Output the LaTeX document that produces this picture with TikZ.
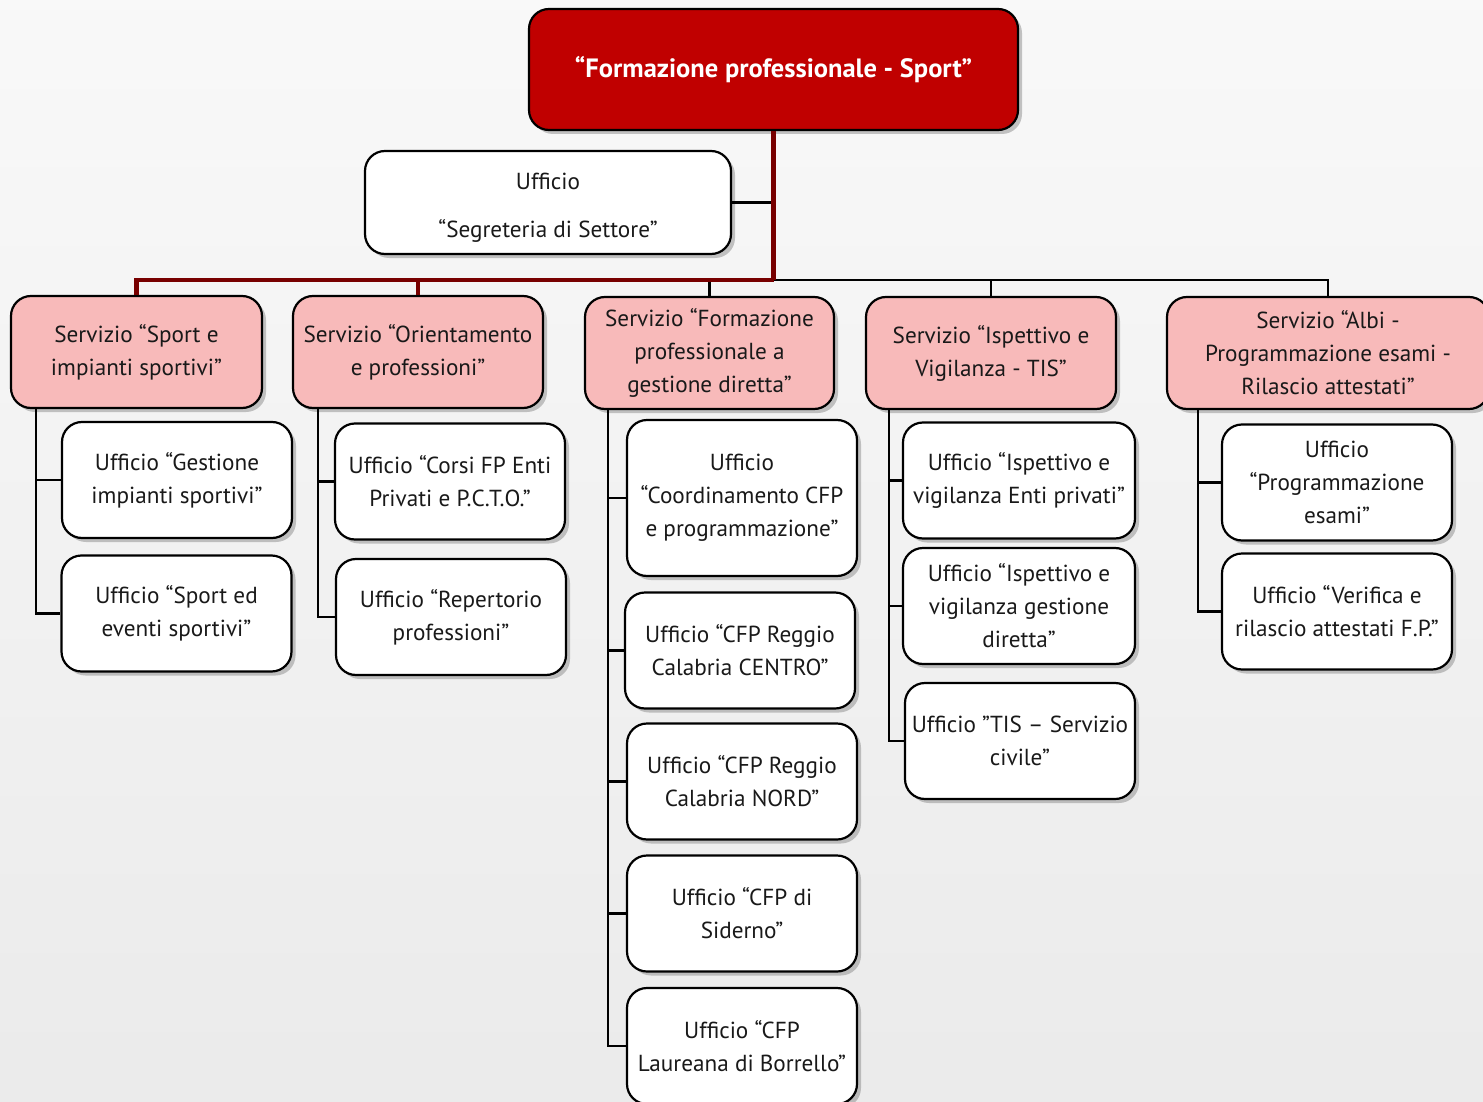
\documentclass[tikz,border=0pt]{standalone}
\usepackage{fontspec}
\setmainfont{PT Sans}
\usetikzlibrary{shadows}
\definecolor{pinkf}{RGB}{248,186,186}
\definecolor{topred}{RGB}{192,0,0}
\definecolor{darkred}{RGB}{120,0,0}
\definecolor{txt}{RGB}{25,25,25}
\newcommand\fs{\fontsize{23.2}{33}\selectfont}
\newcommand\sq{\symbol{34}}
\tikzset{
  box/.style={draw=black, line width=2.2pt, rounded corners=20pt, align=center, inner sep=3pt,
    font=\fs, text=txt, drop shadow={opacity=0.45, shadow xshift=4pt, shadow yshift=-4pt}},
  serv/.style={box, fill=pinkf, minimum height=112pt, minimum width=250pt},
  uff/.style={box, fill=white, minimum width=230pt, minimum height=116pt},
  conn/.style={draw=black, line width=2.2pt},
  redline/.style={draw=darkred, line width=4.5pt},
}
\begin{document}
\begin{tikzpicture}[x=1pt,y=-1pt]
\shade[top color=gray!5, bottom color=gray!16] (0,0) rectangle (1483,1102);
\useasboundingbox (0,0) rectangle (1483,1102);

% top
\node[box, fill=topred, text=white, minimum width=489pt, minimum height=121pt,
      font=\fontsize{26.5}{30}\selectfont\bfseries] (top) at (773.5,69.5) {“Formazione professionale - Sport”};
\node[box, fill=white, minimum width=366pt, minimum height=103pt, font=\fontsize{23.2}{48}\selectfont] (seg) at (548,202.5)
  {\mbox{}\\[-21pt]Ufficio\\“Segreteria di Settore”};

% servizi
\node[serv, minimum width=251pt] (s1) at (136.5,352) {Servizio “Sport e\\impianti sportivi”};
\node[serv] (s2) at (418,352) {Servizio “Orientamento\\e professioni”};
\node[serv, minimum width=249pt] (s3) at (709.5,353) {Servizio “Formazione\\professionale a\\gestione diretta”};
\node[serv] (s4) at (991,353) {Servizio “Ispettivo e\\Vigilanza - TIS”};
\node[serv, minimum width=322pt] (s5) at (1328,353) {Servizio “Albi -\\Programmazione esami -\\Rilascio attestati”};

% uffici
\node[uff] (u11) at (177,480) {Ufficio “Gestione\\impianti sportivi”};
\node[uff] (u12) at (176.5,613.5) {Ufficio “Sport ed\\eventi sportivi”};
\node[uff] (u21) at (450,481.5) {Ufficio “Corsi FP Enti\\Privati e P.C.T.O.”};
\node[uff] (u22) at (451,617) {Ufficio “Repertorio\\professioni”};
\node[uff, minimum height=156pt] (u31) at (742,498) {Ufficio\\“Coordinamento CFP\\e programmazione”};
\node[uff] (u32) at (740,650.5) {Ufficio “CFP Reggio\\Calabria CENTRO”};
\node[uff] (u33) at (742,781.5) {Ufficio “CFP Reggio\\Calabria NORD”};
\node[uff] (u34) at (742,913.5) {Ufficio “CFP di\\Siderno”};
\node[uff] (u35) at (742,1046) {Ufficio “CFP\\Laureana di Borrello”};
\node[uff, minimum width=232pt] (u41) at (1019,480.5) {Ufficio “Ispettivo e\\vigilanza Enti privati”};
\node[uff, minimum width=232pt] (u42) at (1019,606) {Ufficio “Ispettivo e\\vigilanza gestione\\diretta”};
\node[uff] (u43) at (1020,741) {Ufficio \sq TIS – Servizio\\civile\sq};
\node[uff] (u51) at (1337,482.5) {Ufficio\\“Programmazione\\esami”};
\node[uff] (u52) at (1337,611.5) {Ufficio “Verifica e\\rilascio attestati F.P.”};

% connectors
\coordinate (hub) at (773.5,280);
\draw[conn] (seg.east) -- (seg.east -| top.south);
\draw[conn] (hub) -| (s3.north);
\draw[conn] (hub) -| (s4.north);
\draw[conn] (hub) -| (s5.north);
\draw[redline] (top.south) -- (hub);
\draw[redline] (hub) -| (s1.north);
\draw[redline] (hub) -| (s2.north);

\draw[conn] ([xshift=26pt]s1.south west) |- (u11.west);
\draw[conn] ([xshift=26pt]s1.south west) |- (u12.west);
\draw[conn] ([xshift=26pt]s2.south west) |- (u21.west);
\draw[conn] ([xshift=26pt]s2.south west) |- (u22.west);
\draw[conn] ([xshift=24pt]s3.south west) |- (u31.west);
\draw[conn] ([xshift=24pt]s3.south west) |- (u32.west);
\draw[conn] ([xshift=24pt]s3.south west) |- (u33.west);
\draw[conn] ([xshift=24pt]s3.south west) |- (u34.west);
\draw[conn] ([xshift=24pt]s3.south west) |- (u35.west);
\draw[conn] ([xshift=24pt]s4.south west) |- (u41.west);
\draw[conn] ([xshift=24pt]s4.south west) |- (u42.west);
\draw[conn] ([xshift=24pt]s4.south west) |- (u43.west);
\draw[conn] ([xshift=32pt]s5.south west) |- (u51.west);
\draw[conn] ([xshift=32pt]s5.south west) |- (u52.west);
\end{tikzpicture}
\end{document}
